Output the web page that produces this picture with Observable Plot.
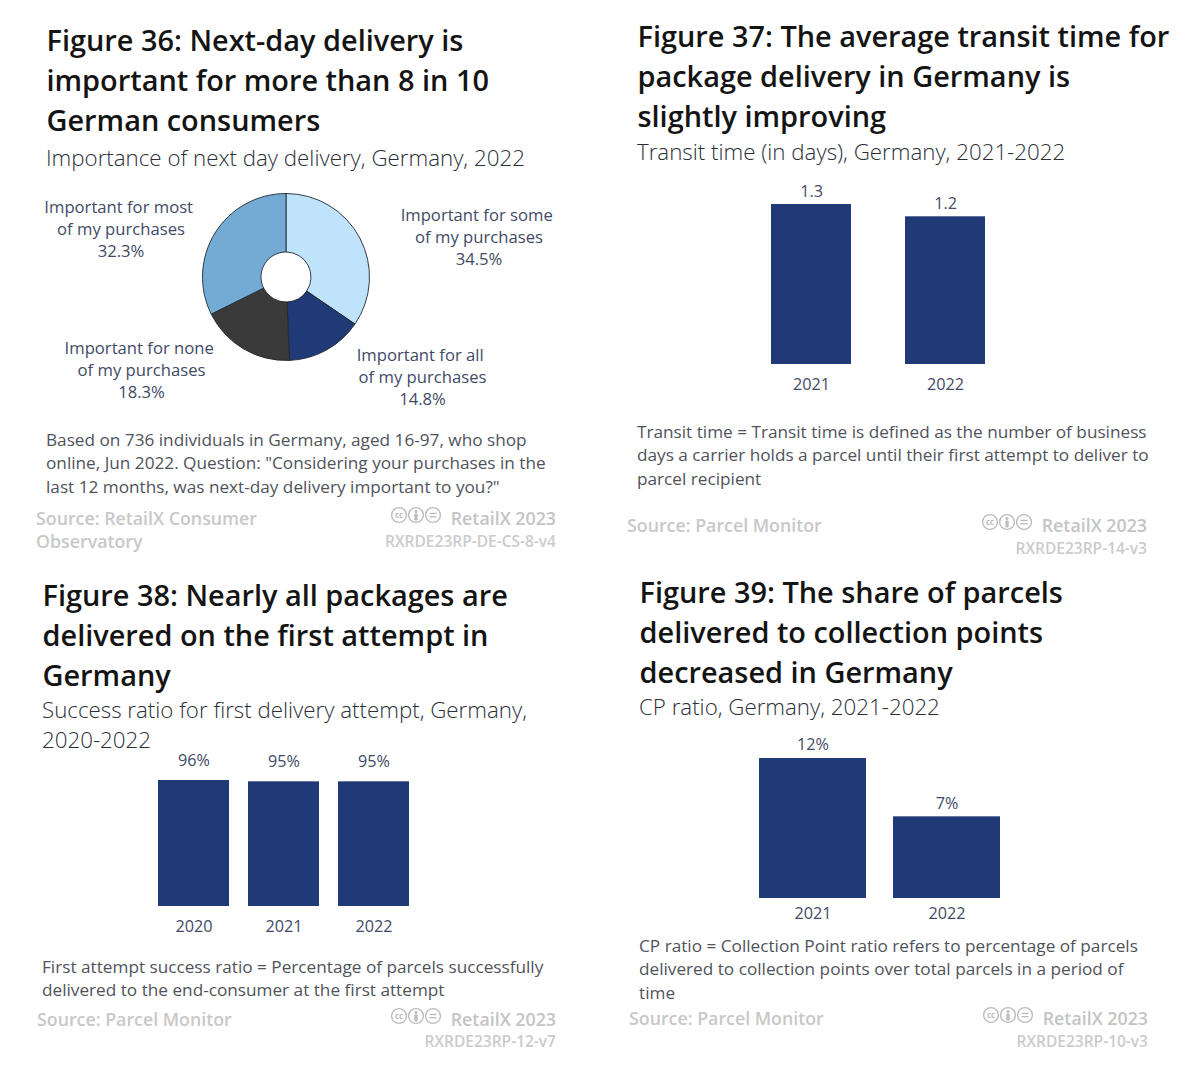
<!DOCTYPE html>
<html><head><meta charset="utf-8">
<script src="https://cdn.jsdelivr.net/npm/d3@7"></script>
<script src="https://cdn.jsdelivr.net/npm/@observablehq/plot@0.6"></script>
<style>
html,body{margin:0;padding:0;background:#fff}
#page{position:relative;width:1197px;height:1080px;overflow:hidden;background:#fff;font-family:"Open Sans",sans-serif}
.t{position:absolute;white-space:nowrap}
.title{font-size:28.9px;font-weight:600;color:#141414;line-height:40px}
.sub{font-size:22.3px;font-weight:300;color:#2b2f38;line-height:30px}
.note{font-size:17.2px;font-weight:400;color:#50535b;line-height:24px}
.lab{font-size:16.65px;font-weight:400;color:#3f4a66;line-height:22px;text-align:center}
.src{font-size:17.8px;font-weight:600;color:#c8c8c8;line-height:24px}
.brand{font-size:17.8px;font-weight:600;color:#c4c4c4;line-height:24px}
.code{font-size:15.5px;font-weight:600;color:#cbcbcb;line-height:20px}
.chart{position:absolute}
.chart svg{display:block;overflow:visible}
</style></head><body><div id="page"></div>
<script>
// Figure 36
const pieCategories = ["Important for some of my purchases","Important for all of my purchases","Important for none of my purchases","Important for most of my purchases"];
const pieValues = [34.5,14.8,18.3,32.3];
const pieColors = ["#bfe3fa","#1f3a76","#3a3a3a","#74abd4"];
// Figure 37
const years37 = ["2021","2022"];
const transit = [1.3,1.2];
// Figure 38
const years38 = ["2020","2021","2022"];
const success = [96,95,95];
// Figure 39
const years39 = ["2021","2022"];
const cpRatio = [12,7];
const barColor = "#1f3a76";
const labelColor = "#3f4a66";

const page = document.getElementById("page");
function put(cls, left, cy, lh, lines, right){
  lines.forEach((s,i)=>{
    const d=document.createElement("div");
    d.className="t "+cls; d.textContent=s;
    d.style.top=(cy+i*lh-parseFloat(getLH(cls))/2)+"px";
    if(right!==undefined){d.style.right=(1197-right)+"px"} else d.style.left=left+"px";
    page.appendChild(d);
  });
}
function getLH(cls){return ({title:40,sub:30,note:24,lab:22,src:24,brand:24,code:20})[cls]}
function centered(cx,cy,lines){
  lines.forEach((s,i)=>{
    const d=document.createElement("div");
    d.className="t lab"; d.textContent=s;
    d.style.left=(i===0?cx-2.3:cx)+"px"; d.style.top=(cy+i*22-11)+"px"; d.style.transform="translateX(-50%)";
    page.appendChild(d);
  });
}
function icons(x,y){
  const ns="http://www.w3.org/2000/svg";
  const s=document.createElementNS(ns,"svg");
  s.setAttribute("width",60);s.setAttribute("height",20);
  s.style.cssText=`position:absolute;left:${x-9}px;top:${y-10}px`;
  s.innerHTML=`<g fill="none" stroke="#bdbdbd" stroke-width="1.4">
   <circle cx="9" cy="10" r="7.4"/><circle cx="26" cy="10" r="7.4"/><circle cx="43" cy="10" r="7.4"/></g>
   <text x="9" y="12.6" font-size="8" font-weight="700" text-anchor="middle" fill="#bdbdbd" font-family="Open Sans">cc</text>
   <circle cx="26" cy="6.4" r="1.5" fill="#bdbdbd"/><rect x="24.3" y="8.4" width="3.4" height="7" rx="1" fill="#bdbdbd"/>
   <rect x="39.5" y="7.8" width="7" height="1.4" fill="#bdbdbd"/><rect x="39.5" y="11" width="7" height="1.4" fill="#bdbdbd"/>`;
  page.appendChild(s);
}
function footer(srcX,srcY,srcLines,right,y1,y2,code,iconX){
  put("src",srcX,srcY,23,srcLines);
  put("brand",0,y1,0,["RetailX 2023"],right);
  put("code",0,y2,0,[code],right);
  icons(iconX,y1-3);
}
function place(node,left,top){
  const d=document.createElement("div");d.className="chart";
  d.style.left=left+"px";d.style.top=top+"px";d.appendChild(node);page.appendChild(d);
}
function barChart({years,values,fmt,left,width,top,yTop,yBase,padding,dom,labelDy,tickY}){
  const data=years.map((y,i)=>({year:y,value:values[i]}));
  const marginTop=yTop-top, h=yBase-yTop;
  const marginBottom=40;
  return place(Plot.plot({
    width,height:marginTop+h+marginBottom,marginTop,marginBottom,marginLeft:0,marginRight:0,
    style:{fontFamily:"Open Sans",fontSize:"16.2px",color:labelColor,background:"transparent"},
    x:{domain:years,padding,align:0.5,axis:null},
    y:{domain:[0,dom],axis:null,nice:false},
    marks:[
      Plot.barY(data,{x:"year",y:"value",fill:barColor}),
      Plot.text(data,{x:"year",y:"value",text:d=>fmt(d.value),dy:labelDy,fill:labelColor,fontSize:16.2}),
      Plot.axisX({domain:years,tickSize:0,tickPadding:tickY,fontSize:16.2,color:labelColor,label:null})
    ]
  }),left,top);
}

// ---- Figure 36
put("title",46.5,39.7,40,["Figure 36: Next-day delivery is","important for more than 8 in 10","German consumers"]);
put("sub",46,157.5,30,["Importance of next day delivery, Germany, 2022"]);
const pie=pieCategories.map((c,i)=>({category:c,value:pieValues[i]}));
place(Plot.plot({
  width:180,height:180,margin:0,
  x:{domain:[0,d3.sum(pieValues)],range:[0,2*Math.PI],axis:null},
  y:{axis:null},
  color:{domain:pieCategories,range:pieColors},
  style:{background:"transparent"},
  marks:[
    Plot.barX(pie,Plot.stackX({x:"value",fill:"category",order:null,
      render(index,scales,values,dims){
        const g=d3.create("svg:g").attr("transform",`translate(${dims.width/2},${dims.height/2})`);
        const arc=d3.arc().innerRadius(25).outerRadius(83.5);
        for(const i of index){
          g.append("path").attr("d",arc({startAngle:values.x1[i],endAngle:values.x2[i]}))
           .attr("fill",values.fill[i]).attr("stroke","#23272f").attr("stroke-width",0.9);
        }
        return g.node();
      }}))
  ]
}),196,187);
centered(121,207,["Important for most","of my purchases","32.3%"]);
centered(479,215,["Important for some","of my purchases","34.5%"]);
centered(141.5,348,["Important for none","of my purchases","18.3%"]);
centered(422.5,354.5,["Important for all","of my purchases","14.8%"]);
put("note",46,439.7,23.4,["Based on 736 individuals in Germany, aged 16-97, who shop","online, Jun 2022. Question: \"Considering your purchases in the","last 12 months, was next-day delivery important to you?\""]);
footer(36,518,["Source: RetailX Consumer","Observatory"],556,518,541,"RXRDE23RP-DE-CS-8-v4",399);

// ---- Figure 37
put("title",637.5,36.4,40,["Figure 37: The average transit time for","package delivery in Germany is","slightly improving"]);
put("sub",637,152,30,["Transit time (in days), Germany, 2021-2022"]);
barChart({years:years37,values:transit,fmt:d=>d.toFixed(1),left:715.5,width:323.5,top:170,yTop:204,yBase:364,padding:0.405,dom:1.3,labelDy:-13,tickY:14});
put("note",637,431.7,23.4,["Transit time = Transit time is defined as the number of business","days a carrier holds a parcel until their first attempt to deliver to","parcel recipient"]);
footer(627,525,["Source: Parcel Monitor"],1147,525,548,"RXRDE23RP-14-v3",990);

// ---- Figure 38
put("title",42.5,595,40,["Figure 38: Nearly all packages are","delivered on the first attempt in","Germany"]);
put("sub",42,709.5,30,["Success ratio for first delivery attempt, Germany,","2020-2022"]);
barChart({years:years38,values:success,fmt:d=>d+"%",left:138.5,width:289,top:745,yTop:780,yBase:906,padding:0.211,dom:96,labelDy:-20,tickY:14});
put("note",42,966.7,23.4,["First attempt success ratio = Percentage of parcels successfully","delivered to the end-consumer at the first attempt"]);
footer(37,1019,["Source: Parcel Monitor"],556,1019,1041,"RXRDE23RP-12-v7",399);

// ---- Figure 39
put("title",639.5,592,40,["Figure 39: The share of parcels","delivered to collection points","decreased in Germany"]);
put("sub",639,707,30,["CP ratio, Germany, 2021-2022"]);
barChart({years:years39,values:cpRatio,fmt:d=>d+"%",left:730.5,width:297.5,top:725,yTop:758,yBase:898,padding:0.204,dom:12,labelDy:-13.5,tickY:9});
put("note",639,945.7,23.4,["CP ratio = Collection Point ratio refers to percentage of parcels","delivered to collection points over total parcels in a period of","time"]);
footer(629,1018,["Source: Parcel Monitor"],1148,1018,1041,"RXRDE23RP-10-v3",991);
</script></body></html>
